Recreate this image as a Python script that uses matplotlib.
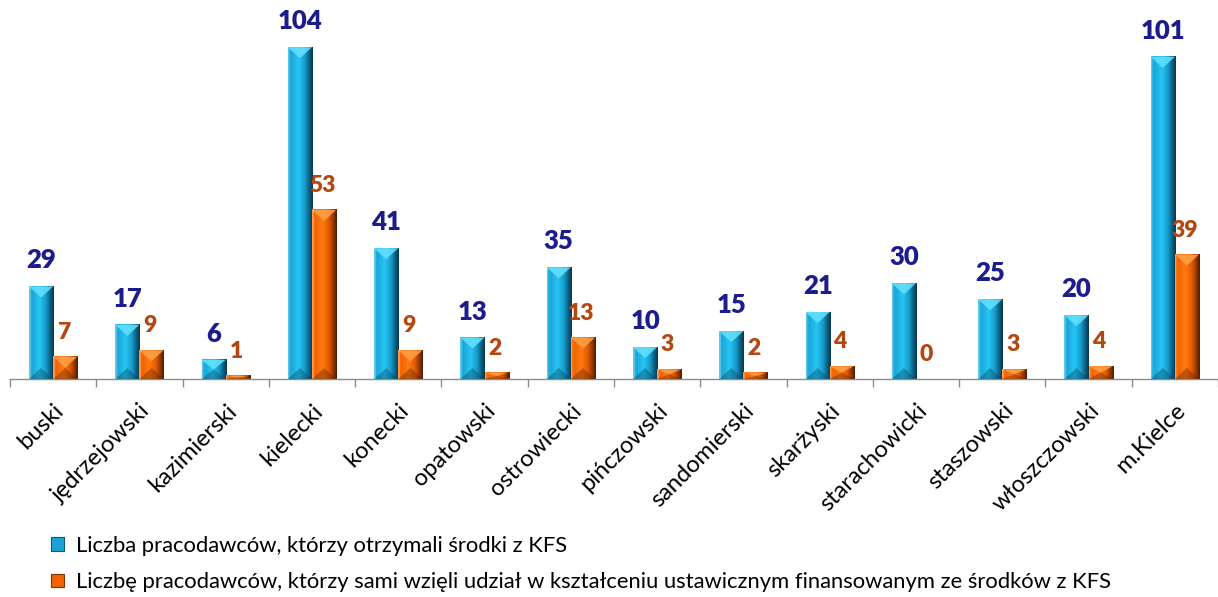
import numpy as np
import matplotlib
matplotlib.use("Agg")
import matplotlib.pyplot as plt
from matplotlib.patches import Polygon, Patch
from matplotlib.colors import to_rgb

plt.rcParams['font.family'] = ['Lato', 'DejaVu Sans']

powiaty = ["buski", "jędrzejowski", "kazimierski", "kielecki", "konecki", "opatowski",
           "ostrowiecki", "pińczowski", "sandomierski", "skarżyski", "starachowicki",
           "staszowski", "włoszczowski", "m.Kielce"]
otrzymali = [29, 17, 6, 104, 41, 13, 35, 10, 15, 21, 30, 25, 20, 101]
udzial = [7, 9, 1, 53, 9, 2, 13, 3, 2, 4, 0, 3, 4, 39]

label_otrzymali = "Liczba pracodawców, którzy otrzymali środki z KFS"
label_udzial = ("Liczbę pracodawców, którzy sami wzięli udział w kształceniu "
                "ustawicznym finansowanym ze środków z KFS")

W, H, DPI = 1218, 597, 100
fig = plt.figure(figsize=(W / DPI, H / DPI), dpi=DPI)
ax_left, ax_right, ax_top, ax_bottom = 10, 1218, 0, 379
ax = fig.add_axes([ax_left / W, 1 - ax_bottom / H, (ax_right - ax_left) / W, (ax_bottom - ax_top) / H])

YMAX = 118.8
ax.set_xlim(-0.5, len(powiaty) - 0.5)
ax.set_ylim(0, YMAX)
px_per_y = (ax_bottom - ax_top) / YMAX
px_per_x = (ax_right - ax_left) / len(powiaty)

bar_w = 0.28

blue_stops = ["#3cc0ea", "#1aa6d8", "#26c6f4", "#169ccc", "#0b5a7a", "#08384d"]
orange_stops = ["#ff8a2a", "#f26300", "#ff7a12", "#e35a00", "#8a3300", "#4e1d00"]
stop_pos = [0.0, 0.12, 0.42, 0.68, 0.88, 1.0]


def gradient_image(stops, n=48):
    rgb = np.array([to_rgb(c) for c in stops])
    xs = np.linspace(0, 1, n)
    cols = np.stack([np.interp(xs, stop_pos, rgb[:, k]) for k in range(3)], axis=-1)
    return cols[np.newaxis, :, :]


def bevel_bar(x0, value, stops, top_col, bot_col):
    if value <= 0:
        return
    x1 = x0 + bar_w
    xc = x0 + bar_w / 2
    ax.imshow(gradient_image(stops), extent=[x0, x1, 0, value], aspect='auto',
              interpolation='bilinear', zorder=2)
    h_px = value * px_per_y
    depth_px = min(11.0, h_px / 2)
    d = depth_px / px_per_y
    ax.add_patch(Polygon([(x0, value), (x1, value), (xc, value - d)], closed=True,
                         facecolor=top_col, edgecolor='none', alpha=0.85, zorder=3))
    ax.add_patch(Polygon([(x0, 0), (x1, 0), (xc, d)], closed=True,
                         facecolor=bot_col, edgecolor='none', alpha=0.35, zorder=3))
    # thin light strip on the left edge
    e = 1.6 / px_per_x
    ax.add_patch(Polygon([(x0, 0), (x0 + e, 0), (x0 + e, value), (x0, value)], closed=True,
                         facecolor='white', edgecolor='none', alpha=0.18, zorder=3))


x = np.arange(len(powiaty))
for i in range(len(powiaty)):
    bevel_bar(x[i] - bar_w, otrzymali[i], blue_stops, "#66e2ff", "#05384d")
    bevel_bar(x[i], udzial[i], orange_stops, "#ffa24a", "#4a1a00")

off_px = 14
for i in range(len(powiaty)):
    ax.annotate(str(otrzymali[i]), (x[i] - bar_w / 2, otrzymali[i]), xytext=(0, off_px),
                textcoords='offset pixels', ha='center', va='bottom', fontsize=18.5,
                fontweight='heavy', color='#1c1c8c', zorder=5)
    ax.annotate(str(udzial[i]), (x[i] + bar_w / 2 - 0.02, udzial[i]), xytext=(0, off_px),
                textcoords='offset pixels', ha='center', va='bottom', fontsize=16.5,
                fontweight='heavy', color='#b4470f', zorder=5)

ax.set_xlim(-0.5, len(powiaty) - 0.5)
ax.set_ylim(0, YMAX)

for s in ['left', 'right', 'top']:
    ax.spines[s].set_visible(False)
ax.spines['bottom'].set_color('#8c8c8c')
ax.spines['bottom'].set_linewidth(1.0)
ax.set_yticks([])
ax.set_xticks(x)
ax.set_xticklabels(powiaty, rotation=45, ha='right', va='top', rotation_mode='anchor',
                   fontsize=17)
ax.tick_params(axis='x', which='major', length=0, pad=15)
ax.set_xticks(np.arange(-0.5, len(powiaty)), minor=True)
ax.tick_params(axis='x', which='minor', length=6, color='#8c8c8c', width=1.0)

handles = [Patch(facecolor='#1aa2d4', edgecolor='#0b5a7a', linewidth=0.8),
           Patch(facecolor='#f26300', edgecolor='#8a3300', linewidth=0.8)]
fig.legend(handles, [label_otrzymali, label_udzial], loc='upper left',
           bbox_to_anchor=(42 / W, 1 - 527 / H), frameon=False, fontsize=15.8,
           handlelength=0.6, handleheight=0.6, handletextpad=0.55, labelspacing=0.75,
           borderaxespad=0)

fig.savefig("out.png", dpi=DPI)
